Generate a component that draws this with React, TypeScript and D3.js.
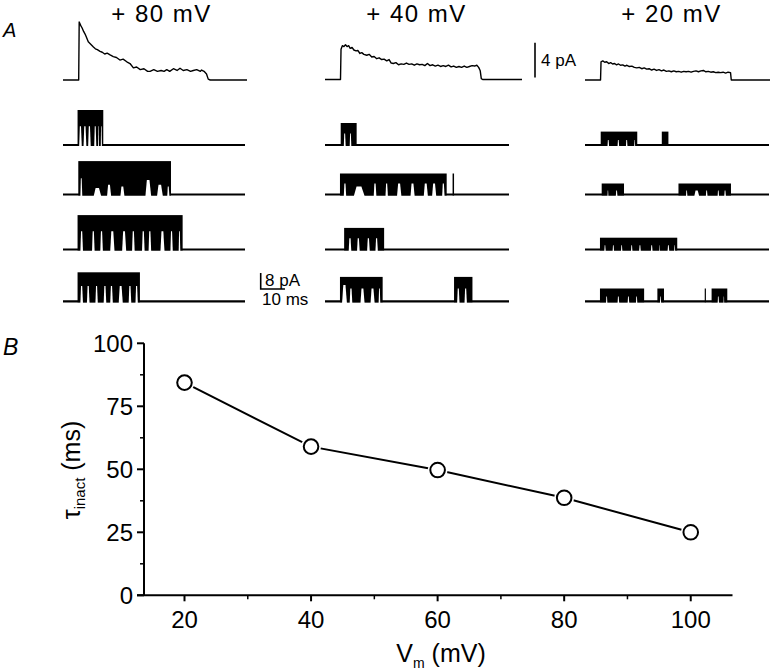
import * as React from 'react';
import * as d3 from 'd3';

// ---- panel A data ----
const voltageLabels = ['+ 80 mV', '+ 40 mV', '+ 20 mV'];

// mean currents, [ms from pulse onset, pA]
const avg80: [number, number][] = [
  [-6, 0], [0.4, 0], [0.6, 6.7], [1.2, 6.3], [1.8, 6.0], [2.4, 5.6], [3, 5.3], [3.6, 4.9], [4.3, 4.4],
  [5, 4.2], [5.7, 4.0], [6.4, 3.8], [7.2, 3.6], [8, 3.5], [9.1, 3.3], [10, 3.2], [11, 3.0], [12, 3.1],
  [13.2, 2.9], [14.5, 2.7], [15.8, 2.6], [17.2, 2.3], [18.5, 2.4], [20, 2.1], [21.3, 1.9], [22.7, 1.4],
  [24, 1.5], [25.5, 1.2], [27, 1.3], [28.5, 1.0], [29.5, 1.0], [31, 1.2], [32.5, 1.0], [34, 1.1],
  [35.2, 1.0], [36.3, 1.2], [37.5, 1.0], [39, 1.3], [40.5, 1.1], [41.7, 1.35], [43, 1.1], [44.5, 1.2],
  [46, 1.0], [47.1, 1.1], [48.5, 1.2], [50, 1.0], [50.5, 1.15], [51.5, 1.0], [52.5, 0.7], [53.2, 0.1],
  [54, 0], [69, 0],
];
const avg40: [number, number][] = [
  [-6, 0], [-0.1, 0], [0.1, 3.5], [0.6, 3.9], [1.2, 3.8], [1.8, 4.0], [2.4, 3.8], [3, 3.9], [3.6, 3.6],
  [4.3, 3.7], [5, 3.4], [5.8, 3.3], [6.5, 3.35], [7.3, 3.0], [8, 3.1], [8.8, 2.9], [9.9, 2.8], [10.8, 2.9],
  [11.8, 2.6], [12.7, 2.65], [13.7, 2.4], [14.6, 2.5], [15.6, 2.3], [16.5, 2.35], [17.5, 2.15], [18.4, 2.3],
  [19.2, 1.9], [20, 1.85], [21, 1.95], [22, 1.7], [23, 1.8], [24, 1.75], [25, 1.9], [26, 1.75], [27, 1.8],
  [28, 1.65], [29, 1.8], [30, 1.7], [31, 1.75], [32, 1.6], [33, 1.85], [34, 1.6], [35, 1.7], [36, 1.55],
  [37, 1.65], [38, 1.5], [39, 1.6], [40, 1.5], [41, 1.65], [42, 1.45], [43, 1.55], [44, 1.4], [45, 1.5],
  [46, 1.4], [47, 1.55], [48, 1.4], [49, 1.5], [50, 1.6], [51, 1.55], [51.8, 1.65], [52.5, 1.4],
  [53.1, 1.0], [53.5, 0.1], [54, 0], [69, 0],
];
const avg20: [number, number][] = [
  [-6, 0], [0.3, 0], [0.5, 2.1], [1.2, 2.2], [2, 2.05], [2.8, 2.1], [3.6, 1.9], [4.4, 2.0], [5.2, 1.85],
  [6, 1.9], [6.8, 1.75], [7.6, 1.85], [8.4, 1.7], [9.3, 1.75], [10.2, 1.6], [11, 1.7], [12, 1.55],
  [13, 1.6], [14, 1.45], [15, 1.4], [16, 1.45], [17, 1.3], [18, 1.4], [19, 1.25], [20, 1.3], [21, 1.15],
  [22, 1.25], [23, 1.1], [24, 1.2], [25, 1.05], [26, 1.15], [27, 1.0], [28, 1.05], [29, 0.95], [30, 1.05],
  [31, 0.95], [32, 1.0], [33, 0.9], [34, 1.0], [35, 0.95], [36, 1.0], [37, 0.9], [38, 1.0], [39, 1.05],
  [40, 0.95], [41, 1.05], [42, 1.1], [43, 0.95], [44, 1.0], [45, 0.9], [46, 0.95], [47, 0.85], [48, 0.9],
  [49, 0.85], [50, 0.9], [51, 0.8], [52, 0.9], [53, 0.85], [53.3, 0], [69, 0],
];
const avgTraces = [avg80, avg40, avg20];

// single-channel open level (pA), per voltage and sweep
const openAmp = [
  [17, 16.2, 16.7, 14],
  [10.5, 10, 10.3, 11.7],
  [6.2, 5, 5.4, 5.9],
];

// bursts [start ms, end ms]
const bursts = [
  [[[0, 10.6]], [[0.3, 38.5]], [[0, 43.3]], [[0, 25.7]]],
  [[[0.4, 6.9]], [[0.1, 43.6], [46.0, 46.6]], [[1.8, 18.1]], [[0.1, 17.5], [46.6, 54.1]]],
  [[[0.4, 15.3], [25.3, 28]], [[0.8, 9.9], [32.1, 53.5]], [[0.1, 31.6]], [[0.1, 18.1], [23.5, 26.2], [42.8, 43.2], [45.6, 52]]],
];

// long openings inside bursts [start, end, depth of the open-noise band]
const openings = [
  [
    [[0.5, 1.9], [2.3, 3.8], [4.2, 5.6], [6.7, 7.9], [8.3, 9.0], [9.4, 10.2]],
    [[1.0, 2.1, 0.5], [6.5, 9.9, 0.8], [12, 14, 0.7], [17.5, 19.5, 0.75], [27.8, 30.5, 0.55], [32.6, 35.3, 0.7], [36.8, 38, 0.75]],
    [[1.0, 2.4], [5.8, 7.2], [9.2, 10.6], [13.3, 15.4], [18.2, 20.2], [22.3, 23.7], [26.4, 27.8], [29.1, 30.5], [34, 36], [38.1, 39.4], [41.5, 42.5]],
    [[1.0, 2.4], [3.7, 5.1], [7.2, 8.5], [10.6, 12], [13.3, 14.7], [16.8, 18.8], [20.9, 22.3], [23.7, 25]],
  ],
  [
    [[1.5, 2.6], [3.9, 4.9]],
    [[1.5, 2.8], [5.6, 10.3, 0.6], [13.7, 15.1], [18.5, 19.8], [23.2, 25.3], [28.7, 30.7], [34.1, 36.1], [37.5, 39.5], [41.6, 42.9]],
    [[3.5, 4.9], [6.9, 8.3], [11, 12.4], [14.4, 15.7]],
    [[0.8, 3.1, 0.3], [3.9, 5.3], [8.3, 10.3], [12.4, 14.4], [15.7, 16.7], [47.7, 49], [50.7, 52]],
  ],
  [
    [[2.8, 4.2], [6.9, 8.3], [10.3, 11.7], [13.7, 14.8]],
    [[2.8, 3.9], [6.2, 7.6], [34.8, 36.1], [38.2, 40.9, 0.6], [42.9, 44.3], [47.7, 49], [50.4, 51.8]],
    [[1.5, 2.8], [4.9, 6.2], [8.3, 9.6], [12.4, 13.7], [15.7, 17.1], [20.5, 21.9], [23.9, 24.9], [27.3, 28.7], [30, 31.1]],
    [[2.2, 3.5], [6.9, 8.3], [11, 12.4], [14.4, 15.7], [24.2, 25.4], [47.7, 49], [50.1, 51.1]],
  ],
];

// ---- panel B data ----
const vm = [20, 40, 60, 80, 100];
const tauInact = [84.4, 59, 49.7, 38.7, 25];
const xMajor = [20, 40, 60, 80, 100];
const xMinor = [30, 50, 70, 90];
const yMajor = [0, 25, 50, 75, 100];
const yMinor = [12.5, 37.5, 62.5, 87.5];

const font = '"Liberation Sans", Arial, Helvetica, sans-serif';

export default function App() {
  const tDomain = [-6, 69];
  const avgRanges = [[63, 247], [325, 522], [585, 770]];
  const chRanges = [[63, 245], [325, 509], [585, 769]];
  const avgBase = [80, 79.5, 80];
  const rowBase = [145, 194.5, 249.5, 301.3];
  const avgPxPerPA = 8.67;
  const chPxPerPA = 2;
  const titleX = [161.5, 416.5, 671.5];

  // panel B scales
  const x = d3.scaleLinear().domain([13.6, 106.6]).range([144, 732.5]);
  const y = d3.scaleLinear().domain([0, 100]).range([595.3, 343.3]);
  const tauLine = d3.line<number>().x((_, i) => x(vm[i])).y(d => y(d));

  const chX = chRanges.map(r => d3.scaleLinear().domain(tDomain).range(r));
  const sc80 = chX[0];
  const barY = d3.scaleLinear().domain([0, 1]).range([289, 289 - chPxPerPA]);
  const bar4 = d3.scaleLinear().domain([0, 1]).range([77.5, 77.5 - avgPxPerPA]);
  const barX = 260.7;

  return (
    <svg width={776} height={672} style={{ position: 'absolute', left: 0, top: 0, background: '#fff' }}
      fontFamily={font}>
      <rect width={776} height={672} fill="#fff" />
      <text x={3} y={37} fontSize={20} fontStyle="italic">A</text>
      {voltageLabels.map((l, i) => (
        <text key={l} x={titleX[i]} y={22} fontSize={24} textAnchor="middle" letterSpacing={1.5}>{l}</text>
      ))}

      {avgTraces.map((tr, c) => {
        const xs = d3.scaleLinear().domain(tDomain).range(avgRanges[c]);
        const ys = d3.scaleLinear().domain([0, 1]).range([avgBase[c], avgBase[c] - avgPxPerPA]);
        const ln = d3.line<[number, number]>().x(d => xs(d[0])).y(d => ys(d[1]));
        return <path key={c} d={ln(tr) || ''} fill="none" stroke="#000" strokeWidth={1.4} strokeLinejoin="round" />;
      })}

      {/* 4 pA bar */}
      <line x1={535} x2={535} y1={bar4(0)} y2={bar4(4)} stroke="#000" strokeWidth={1.6} />
      <text x={541} y={66} fontSize={17}>4 pA</text>

      {bursts.map((col, c) => col.map((row, r) => {
        const xs = chX[c];
        const ys = d3.scaleLinear().domain([0, 1]).range([rowBase[r], rowBase[r] - chPxPerPA]);
        const amp = openAmp[c][r];
        const base = d3.line<number>().x(d => xs(d)).y(() => ys(0));
        const inset = c === 2 ? 0.9 : 0.4;
        return (
          <g key={`${c}-${r}`}>
            <path d={base(tDomain) || ''} stroke="#000" strokeWidth={2.2} fill="none" />
            {row.map(([a, b], k) => (
              <rect key={k} x={xs(a)} y={ys(amp) - 1} width={Math.max(1.2, xs(b) - xs(a))}
                height={ys(0) - ys(amp) + 2} fill="#000" />
            ))}
            {openings[c][r].map((o, k) => {
              const d = o[2] ?? (c === 2 ? 0.6 : 0.45);
              const top = ys(amp * (1 - d));
              const x0 = xs(o[0]) + inset;
              const x1 = xs(o[1]) - inset;
              const w = x1 - x0;
              const bot = ys(0) + 1.6;
              return (
                <path key={`o${k}`} fill="#fff"
                  d={`M${x0},${bot}L${x0 + w * 0.25},${top}L${x1 - w * 0.3},${top}L${x1},${bot}Z`} />
              );
            })}
          </g>
        );
      }))}

      {/* 8 pA / 10 ms bar */}
      <path d={`M${barX},${barY(8)}V${barY(0)}H${barX + (sc80(10) - sc80(0))}`}
        fill="none" stroke="#000" strokeWidth={1.6} />
      <text x={265} y={286} fontSize={17}>8 pA</text>
      <text x={262} y={305} fontSize={17}>10 ms</text>

      {/* panel B */}
      <text x={3} y={355} fontSize={23} fontStyle="italic">B</text>
      <line x1={x.range()[0]} x2={x.range()[0]} y1={y(0)} y2={y(100)} stroke="#000" strokeWidth={2} />
      <line x1={x.range()[0] - 7} x2={x.range()[1]} y1={y(0)} y2={y(0)} stroke="#000" strokeWidth={2} />
      {yMajor.map(v => (
        <g key={v}>
          <line x1={x.range()[0] - 7} x2={x.range()[0]} y1={y(v)} y2={y(v)} stroke="#000" strokeWidth={2} />
          <text x={133} y={y(v) + 8.5} fontSize={24} textAnchor="end">{v}</text>
        </g>
      ))}
      {yMinor.map(v => (
        <line key={v} x1={x.range()[0] - 4} x2={x.range()[0]} y1={y(v)} y2={y(v)} stroke="#000" strokeWidth={1.5} />
      ))}
      {xMajor.map(v => (
        <g key={v}>
          <line x1={x(v)} x2={x(v)} y1={y(0)} y2={y(0) + 6} stroke="#000" strokeWidth={2} />
          <text x={x(v)} y={627.5} fontSize={24} textAnchor="middle">{v}</text>
        </g>
      ))}
      {xMinor.map(v => (
        <line key={v} x1={x(v)} x2={x(v)} y1={y(0)} y2={y(0) + 4} stroke="#000" strokeWidth={1.5} />
      ))}
      <path d={tauLine(tauInact) || ''} fill="none" stroke="#000" strokeWidth={2} />
      {tauInact.map((t, i) => (
        <g key={i}>
          <circle cx={x(vm[i])} cy={y(t)} r={10} fill="#fff" />
          <circle cx={x(vm[i])} cy={y(t)} r={7.3} fill="#fff" stroke="#000" strokeWidth={2} />
        </g>
      ))}
      <text transform="translate(80,470) rotate(-90)" fontSize={25} textAnchor="middle">
        τ<tspan fontSize={15} dy={5}>inact</tspan><tspan dy={-5}> (ms)</tspan>
      </text>
      <text x={441} y={661.5} fontSize={25} textAnchor="middle">
        V<tspan fontSize={14} dy={6}>m</tspan><tspan dy={-6}> (mV)</tspan>
      </text>
    </svg>
  );
}
